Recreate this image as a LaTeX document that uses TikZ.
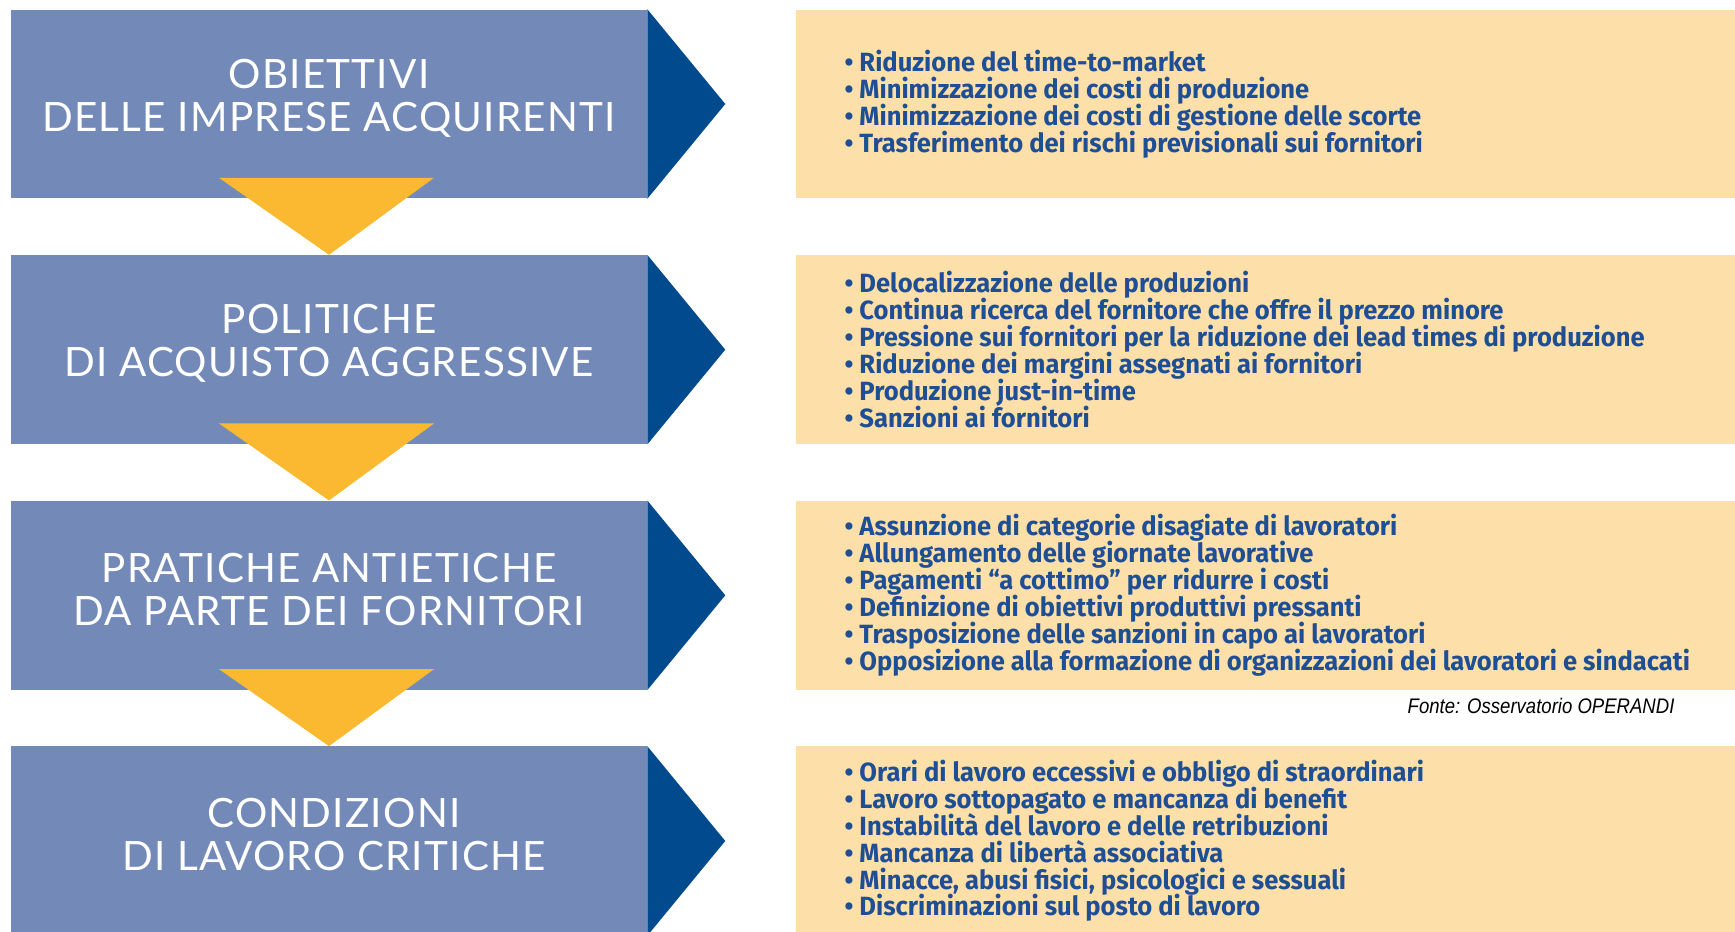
\documentclass[tikz,border=0pt]{standalone}
\usepackage{fontspec}
\usepackage{tikz}
\usetikzlibrary{positioning}

\newfontfamily\titlefont[LetterSpace=3]{Lato}
\newfontfamily\listfont[FakeStretch=0.97]{Fira Sans}
\newfontfamily\notefont[FakeStretch=0.88]{Liberation Sans}
\newcommand\listsetup{\listfont\bfseries\fontsize{15}{15.3}\selectfont\setlength{\lineskiplimit}{-20pt}}

\definecolor{boxblue}{HTML}{7389B8}
\definecolor{tipblue}{HTML}{004A8D}
\definecolor{arrowyellow}{HTML}{FBB931}
\definecolor{panelpeach}{HTML}{FDDFAA}
\definecolor{listblue}{HTML}{1E4E94}

\begin{document}
\begin{tikzpicture}[x=0.02cm, y=-0.02cm,
    stepbox/.style={rectangle, fill=boxblue, minimum width=12.72cm, minimum height=3.78cm, inner sep=0pt},
    steptitle/.style={text=white, align=center, inner sep=0pt,
                      font=\titlefont\fontsize{23}{24.5}\selectfont},
    panel/.style={rectangle, fill=panelpeach, minimum width=18.8cm, minimum height=3.78cm, inner sep=0pt},
    listtext/.style={anchor=west, align=left, text=listblue, inner sep=0pt, font=\listsetup},
    notetext/.style={anchor=east, inner sep=0pt, font=\notefont\itshape\fontsize{12}{14}\selectfont}]

  \useasboundingbox (0,0) rectangle (1735,932);

  % === Steps (Left) ===
  \node[stepbox] (obj) at (329,104) {};
  \node[stepbox, below=1.12cm of obj] (pol) {};
  \node[stepbox, below=1.12cm of pol] (pra) {};
  \node[stepbox, below=1.12cm of pra] (con) {};

  % dark tips on the right side of each step
  \foreach \s in {obj, pol, pra, con} {
    \fill[tipblue] (\s.north east) -- ([xshift=1.56cm]\s.east) -- (\s.south east) -- cycle;
  }

  % yellow triangles between steps
  \foreach \a/\b in {obj/pol, pol/pra, pra/con} {
    \fill[arrowyellow] ([xshift=-2.2cm, yshift=0.42cm]\a.south) -- ([xshift=2.1cm, yshift=0.42cm]\a.south)
      -- (\b.north) -- cycle;
  }

  \node[steptitle] (objtitle) at ([yshift=0.12cm]obj.center) {OBIETTIVI\\DELLE IMPRESE ACQUIRENTI};
  \node[steptitle] (poltitle) at ([yshift=0.12cm]pol.center) {POLITICHE\\DI ACQUISTO AGGRESSIVE};
  \node[steptitle] (pratitle) at ([yshift=0.12cm]pra.center) {PRATICHE ANTIETICHE\\DA PARTE DEI FORNITORI};
  \node[steptitle] (contitle) at ([xshift=0.1cm, yshift=0.12cm]con.center) {CONDIZIONI\\DI LAVORO CRITICHE};

  % === Panels (Right) ===
  \node[panel, right=2.96cm of obj] (objpanel) {};
  \node[panel, right=2.96cm of pol] (polpanel) {};
  \node[panel, right=2.96cm of pra] (prapanel) {};
  \node[panel, right=2.96cm of con] (conpanel) {};

  \node[listtext] (objlist) at ([xshift=0.98cm]objpanel.west) {%
    • Riduzione del time-to-market\\
    • Minimizzazione dei costi di produzione\\
    • Minimizzazione dei costi di gestione delle scorte\\
    • Trasferimento dei rischi previsionali sui fornitori};

  \node[listtext] (pollist) at ([xshift=0.98cm]polpanel.west) {%
    • Delocalizzazione delle produzioni\\
    • Continua ricerca del fornitore che offre il prezzo minore\\
    • Pressione sui fornitori per la riduzione dei lead times di produzione\\
    • Riduzione dei margini assegnati ai fornitori\\
    • Produzione just-in-time\\
    • Sanzioni ai fornitori};

  \node[listtext] (pralist) at ([xshift=0.98cm]prapanel.west) {%
    • Assunzione di categorie disagiate di lavoratori\\
    • Allungamento delle giornate lavorative\\
    • Pagamenti “a cottimo” per ridurre i costi\\
    • Definizione di obiettivi produttivi pressanti\\
    • Trasposizione delle sanzioni in capo ai lavoratori\\
    • Opposizione alla formazione di organizzazioni dei lavoratori e sindacati};

  \node[listtext] (conlist) at ([xshift=0.98cm]conpanel.west) {%
    • Orari di lavoro eccessivi e obbligo di straordinari\\
    • Lavoro sottopagato e mancanza di benefit\\
    • Instabilità del lavoro e delle retribuzioni\\
    • Mancanza di libertà associativa\\
    • Minacce, abusi fisici, psicologici e sessuali\\
    • Discriminazioni sul posto di lavoro};

  \node[notetext] (source) at ([xshift=-1.22cm, yshift=-0.32cm]prapanel.south east) {Fonte: Osservatorio OPERANDI};

\end{tikzpicture}
\end{document}
